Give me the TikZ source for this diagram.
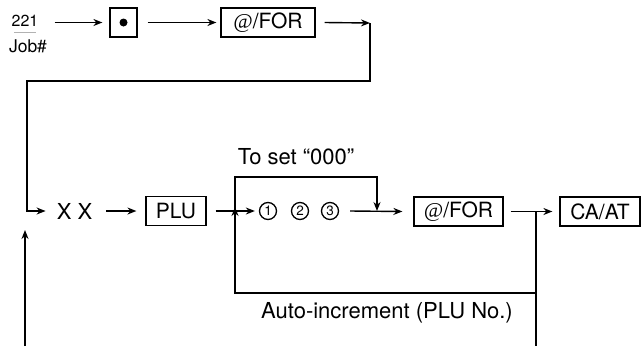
\documentclass[tikz,border=0pt]{standalone}
\usepackage{fontspec}
\setmainfont{TeX Gyre Heros}
\newfontfamily\atfont{Liberation Serif}
\usetikzlibrary{arrows.meta}
\tikzset{
  key/.style={draw, line width=1.2pt, inner sep=0pt, minimum height=29pt, font=\fontsize{21}{22}\selectfont},
  lbl/.style={inner sep=0pt, font=\fontsize{22}{24}\selectfont},
  dig/.style={draw, circle, line width=1.3pt, inner sep=0pt, minimum size=17pt, font=\fontsize{13.5}{14}\selectfont},
  ln/.style={line width=1.4pt},
  arr/.style={line width=1.4pt, -{Stealth[length=9pt,width=7pt]}},
}
\begin{document}
\begin{tikzpicture}[x=1pt,y=-1pt]
\useasboundingbox (0,0) rectangle (642,346);
% top row
\node[inner sep=0pt, font=\fontsize{16}{17}\selectfont] (n221) at (25,21) {221};
\draw[gray!60, line width=0.6pt] (14,32) -- (36,32);
\node[inner sep=0pt, font=\fontsize{17.5}{19}\selectfont] (job) at (28,46) {Job\#};
\node[key, minimum width=27pt] (dotbox) at (123.5,22.5) {};
\node[circle, fill=black, inner sep=0pt, minimum size=8pt] (dot) at (dotbox.center) {};
\node[key, minimum width=94pt] (for1) at (268,22.5) {{\atfont\itshape @}/FOR};
\coordinate (c1) at (370,23);
\coordinate (c2) at (370,81);
\coordinate (c3) at (27,211);
\draw[arr] ([xshift=16pt]n221.east |- dotbox.west) -- ([xshift=-7pt]dotbox.west);
\draw[arr] ([xshift=10pt]dotbox.east) -- ([xshift=-4pt]for1.west);
\draw[arr] ([xshift=9pt]for1.east) -- (c1);
% row 2
\node[lbl] (xx) at (74.5,211) {X X};
\node[key, minimum width=60pt] (plu) at (176,211) {PLU};
\node[dig] (d1) at (268,211) {1};
\node[dig] (d2) at (300,211) {2};
\node[dig] (d3) at (330,211) {3};
\node[key, minimum width=89pt] (for2) at (458.5,211.5) {{\atfont\itshape @}/FOR};
\node[key, minimum width=80pt] (caat) at (600,211.5) {CA/AT};
\draw[arr] (c1) -- (c2) -| (c3) -- ([xshift=-11pt]xx.west);
\draw[arr] ([xshift=14pt]xx.east) -- ([xshift=-9pt]plu.west);
\draw[arr] ([xshift=9pt]plu.east) -- ([xshift=-4pt]d1.west);
\coordinate (j1) at (235,211);
\coordinate (b1) at (377,211);
\draw[arr] (j1) -- (235,177) -| (b1);
\draw[arr] ([xshift=11pt]d3.east) -- ([xshift=-11pt]for2.west);
\draw[arr] ([xshift=7pt]for2.east) -- ([xshift=-7pt]caat.west);
\coordinate (j2) at (536,211);
\coordinate (bot) at (536,346);
\draw[arr] (j2) |- (235,293) -- ([yshift=4pt]j1);
\draw[ln] (536,292) -- (bot);
\coordinate (lb) at (25,346);
\draw[arr] (lb) -- (25,230);
% labels
\node[lbl] (toset) at (296,157) {To set “000”};
\node[lbl] (auto) at (387,313) {Auto-increment (PLU No.)};
\end{tikzpicture}
\end{document}
